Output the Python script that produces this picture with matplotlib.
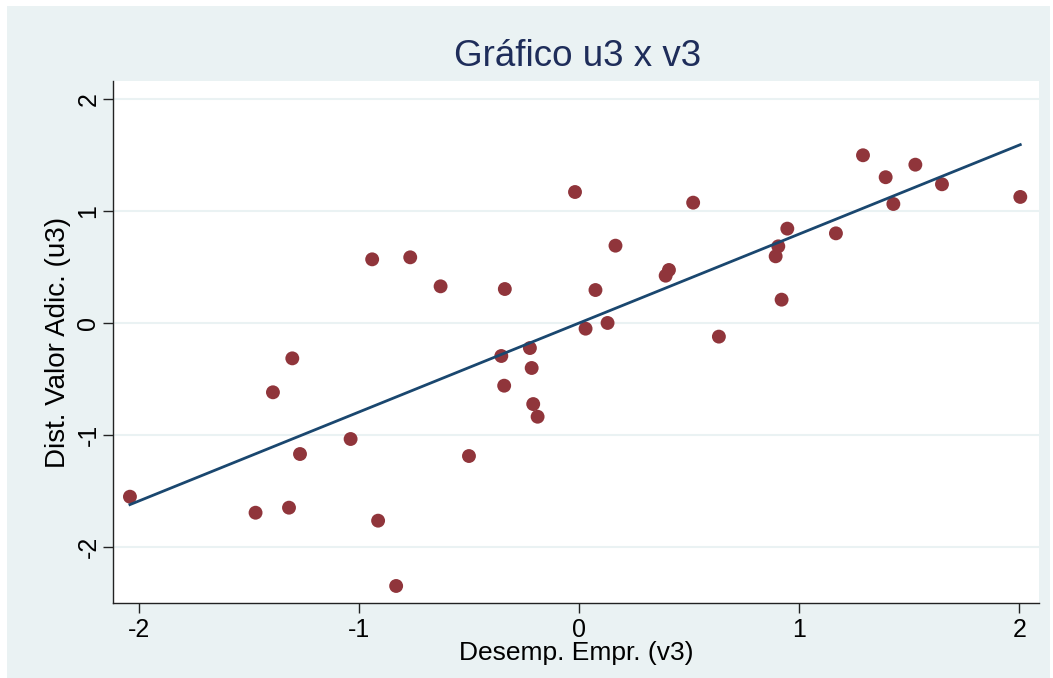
import matplotlib
matplotlib.use("Agg")
import matplotlib.pyplot as plt
import numpy as np
from matplotlib.patches import Rectangle

plt.rcParams['font.family'] = ['Liberation Sans', 'DejaVu Sans']

v3 = [-2.043, -1.305, -1.393, -1.040, -1.270, -1.472, -1.320, -0.915, -0.833,
      -0.942, -0.769, -0.631, -0.339, -0.020, 0.164, 0.517, 0.392, 0.407, 0.073,
      0.028, 0.128, -0.225, -0.355, -0.217, -0.342, -0.210, -0.190, -0.502,
      0.634, 0.945, 0.904, 0.892, 0.919, 1.166, 1.289, 1.392, 1.527, 1.427, 1.648, 2.004]
u3 = [-1.548, -0.313, -0.616, -1.033, -1.167, -1.691, -1.646, -1.762, -2.345,
      0.571, 0.589, 0.330, 0.306, 1.172, 0.693, 1.077, 0.425, 0.476, 0.297,
      -0.048, 0.003, -0.221, -0.292, -0.399, -0.557, -0.721, -0.834, -1.185,
      -0.119, 0.845, 0.687, 0.598, 0.211, 0.803, 1.500, 1.304, 1.416, 1.065, 1.241, 1.128]
xticks = [-2, -1, 0, 1, 2]
yticks = [-2, -1, 0, 1, 2]
title = "Gráfico u3 x v3"
xlabel = "Desemp. Empr. (v3)"
ylabel = "Dist. Valor Adic. (u3)"

bg = '#EAF2F3'
fig = plt.figure(figsize=(10.53, 6.78), dpi=100)
fig.patch.set_facecolor('white')
fig.patches.append(Rectangle((7/1053, 0), 1 - 10/1053, 1 - 6/678, transform=fig.transFigure,
                             facecolor=bg, edgecolor='none', zorder=-10))

ax = fig.add_axes([113/1053, 1 - 603/678, (1039 - 113)/1053, (603 - 81)/678])
ax.set_facecolor('white')

x = np.array(v3); y = np.array(u3)
b, a = np.polyfit(x, y, 1)
xs = np.array([x.min(), x.max()])

ax.scatter(x, y, s=100, color='#90353B', edgecolors='none', zorder=3)
ax.plot(xs, a + b * xs, color='#1A476F', lw=2.0, zorder=4)

ax.set_xlim(-2.12, 2.089)
ax.set_ylim(-2.497, 2.163)
ax.set_xticks(xticks)
ax.set_yticks(yticks)
ax.set_xticklabels([str(t) for t in xticks])
ax.set_yticklabels([str(t) for t in yticks], rotation=90, va='center')
ax.grid(axis='y', color=bg, lw=1.5, zorder=0)
ax.set_axisbelow(True)
for s in ['top', 'right']:
    ax.spines[s].set_visible(False)
for s in ['left', 'bottom']:
    ax.spines[s].set_color('#222222')
    ax.spines[s].set_linewidth(1.0)
ax.tick_params(direction='out', length=7, width=1.0, colors='#222222', labelsize=18, labelcolor='black')
ax.tick_params(axis='x', pad=4)
ax.tick_params(axis='y', pad=2)

ax.set_xlabel(xlabel, fontsize=19, labelpad=-1)
ax.set_ylabel(ylabel, fontsize=20, labelpad=4)
fig.text(578/1053, 1 - 57/678, title, fontsize=26.5, color='#1E2D5A', ha='center', va='center')

fig.savefig('out.png', dpi=100, facecolor=fig.get_facecolor())
